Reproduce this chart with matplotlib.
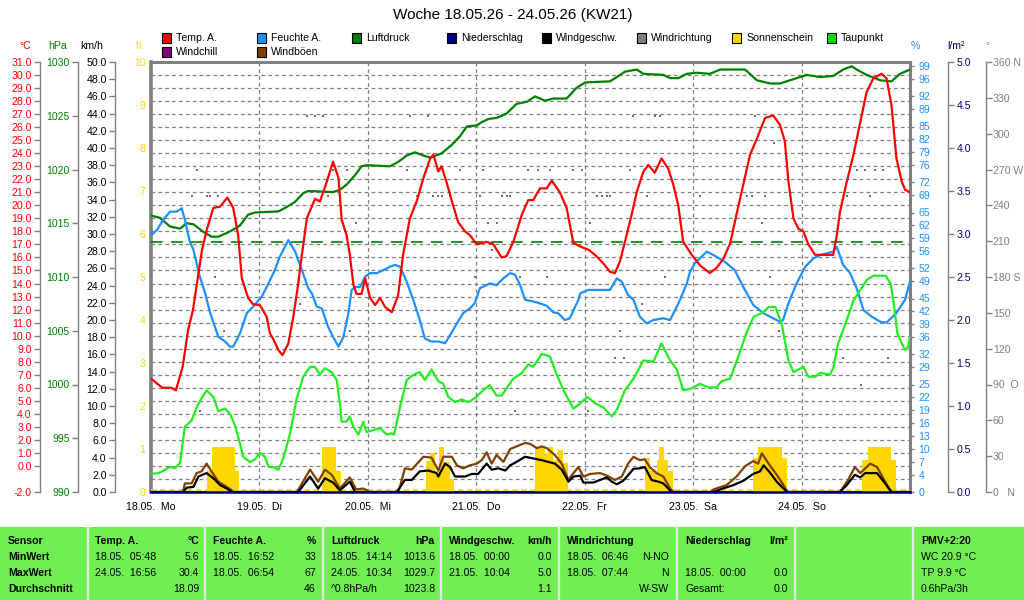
import numpy as np
import matplotlib
matplotlib.use("Agg")
import matplotlib.pyplot as plt
from matplotlib.patches import Rectangle

plt.rcParams['font.family'] = ['Liberation Sans', 'DejaVu Sans']
plt.rcParams['font.size'] = 7.6

# ---- data (hours since 18.05. 00:00, value) ----
temp = np.array([
    (0, 6.7), (2.5, 6.0), (4.5, 6.0), (5.5, 5.8), (7.0, 7.6), (8.2, 10.4), (9.3, 12.0), (10.4, 14.5),
    (11.3, 16.6), (12.4, 18.2), (13.8, 19.8), (15.3, 19.9), (16.9, 20.6), (18.2, 19.8), (19.3, 17.7),
    (20.1, 14.4), (21.5, 12.9), (22.6, 12.4), (24.1, 12.35), (25.6, 11.45), (26.3, 10.2), (27.1, 9.7),
    (28.2, 8.9), (29.1, 8.5), (30.4, 9.4), (31.5, 11.45), (32.6, 14.0), (33.0, 15.2), (34.5, 19.0),
    (36.3, 20.5), (37.4, 20.3), (38.9, 21.8), (40.0, 23.0), (40.3, 23.35), (41.5, 22.1), (42.2, 18.9),
    (43.3, 17.7), (44.0, 16.2), (44.8, 13.9), (45.5, 13.2), (46.6, 13.2), (47.4, 14.4), (48.5, 12.9),
    (49.6, 12.35), (50.7, 12.9), (51.8, 12.2), (53.3, 11.8), (54.7, 13.1), (55.8, 16.2), (57.3, 19.0),
    (58.8, 20.3), (60.3, 22.1), (61.8, 23.6), (62.5, 23.9), (63.6, 22.6), (64.3, 23.0), (65.4, 21.8),
    (66.6, 20.3), (68.0, 18.7), (69.5, 18.0), (70.6, 17.7), (72.1, 17.0), (74.3, 17.2), (75.8, 17.0),
    (77.6, 16.0), (78.7, 16.1), (80.2, 17.2), (82.1, 19.3), (83.5, 20.4), (84.6, 20.4), (86.1, 21.3),
    (87.6, 21.3), (88.7, 21.9), (90.5, 21.0), (92.0, 19.8), (93.5, 17.1), (95.3, 16.8), (96.8, 16.6),
    (98.6, 16.1), (100.1, 15.55), (101.6, 14.9), (102.7, 14.8), (103.8, 15.7), (104.9, 17.2),
    (106.4, 19.3), (107.5, 21.0), (109.0, 22.6), (110.1, 23.1), (111.5, 22.5), (113.0, 23.6),
    (114.5, 22.8), (115.6, 21.6), (116.7, 20.0), (117.8, 17.2), (119.7, 16.2), (121.5, 15.4),
    (123.7, 14.8), (125.2, 15.2), (126.7, 15.9), (128.2, 17.1), (129.6, 19.3), (131.1, 21.6),
    (132.6, 23.9), (134.1, 25.1), (135.9, 26.7), (137.7, 26.9), (139.2, 26.2), (140.3, 24.9),
    (141.1, 21.8), (142.2, 19.0), (143.3, 18.2), (144.4, 18.0), (145.5, 17.0), (147.0, 16.2),
    (151.0, 16.2), (151.8, 17.7), (152.5, 19.5), (154.0, 21.8), (155.5, 23.9), (157.0, 26.4),
    (158.4, 28.7), (159.9, 29.75), (161.7, 30.1), (162.8, 29.75), (163.9, 27.7), (165.0, 23.6),
    (166.2, 21.8), (166.9, 21.2), (168, 21.0)])

humidity = np.array([
    (0.15, 59.8), (1.3, 60.9), (2.7, 63.3), (4.2, 65.2), (5.7, 65.2), (6.8, 66.0), (7.5, 63.3),
    (8.6, 58.2), (9.4, 56.3), (10.8, 50.1), (12.0, 46.2), (13.1, 41.6), (14.9, 36.1), (16.4, 35.0),
    (17.5, 33.8), (18.2, 33.8), (19.7, 36.9), (21.2, 41.6), (22.6, 43.1), (24.5, 45.4), (26.0, 48.5),
    (27.4, 51.6), (28.5, 54.7), (29.3, 56.3), (30.4, 58.6), (31.9, 55.9), (33.2, 52.2), (34.8, 47.4),
    (35.6, 46.2), (36.7, 43.1), (37.8, 42.7), (39.2, 38.4), (40.3, 36.1), (41.5, 33.8), (42.6, 36.1),
    (43.7, 41.6), (44.4, 47.0), (45.2, 47.7), (46.3, 47.7), (47.4, 50.1), (48.5, 50.9), (50.0, 50.9),
    (51.4, 51.6), (52.9, 52.4), (54.0, 52.8), (55.1, 52.4), (56.6, 48.9), (58.1, 44.5), (59.5, 40.0),
    (60.6, 35.7), (62.1, 35.0), (63.6, 35.0), (65.1, 34.6), (66.2, 36.5), (67.7, 39.2), (69.1, 41.6),
    (70.6, 42.7), (71.7, 44.0), (72.8, 47.4), (75.0, 48.5), (76.5, 48.1), (78.0, 49.7), (79.5, 50.9),
    (80.6, 50.5), (81.7, 48.1), (82.8, 44.7), (85.4, 44.1), (87.6, 43.3), (89.0, 41.8), (90.1, 41.6),
    (91.6, 40.0), (92.7, 40.4), (94.6, 44.7), (95.0, 46.2), (96.8, 47.0), (99.4, 47.0), (101.6, 47.0),
    (103.1, 49.7), (104.2, 48.9), (105.6, 45.8), (106.8, 44.7), (107.5, 42.7), (108.2, 40.8),
    (109.7, 39.2), (111.2, 40.0), (113.4, 40.4), (114.9, 40.0), (116.0, 42.3), (117.1, 44.7),
    (118.6, 48.5), (119.3, 51.2), (120.4, 53.2), (123.0, 55.9), (124.5, 55.1), (126.3, 54.0),
    (127.4, 53.2), (129.2, 51.6), (131.1, 47.7), (133.3, 43.5), (135.5, 41.6), (137.7, 40.4),
    (139.2, 39.6), (139.9, 40.0), (141.1, 43.9), (142.9, 48.5), (144.8, 52.4), (146.6, 54.3),
    (148.1, 55.1), (151.0, 55.9), (151.8, 57.0), (153.2, 52.8), (154.7, 51.0), (156.2, 47.4),
    (157.7, 42.3), (159.5, 40.8), (161.4, 39.6), (162.8, 39.4), (165.0, 41.6), (166.9, 44.7),
    (168, 48.9)])

pressure = np.array([
    (0.15, 1015.7), (2.0, 1015.5), (4.2, 1014.7), (6.4, 1014.5), (7.9, 1015.0), (9.4, 1014.9),
    (11.6, 1014.2), (13.4, 1013.75), (14.9, 1013.75), (16.8, 1014.1), (18.2, 1014.4), (19.7, 1014.8),
    (21.5, 1015.8), (23.0, 1016.0), (28.2, 1016.1), (30.0, 1016.5), (31.9, 1017.0), (33.7, 1017.8),
    (34.8, 1018.0), (40.3, 1017.9), (41.8, 1018.1), (43.3, 1018.6), (45.2, 1019.5), (46.6, 1020.3),
    (47.7, 1020.4), (52.9, 1020.3), (54.7, 1020.7), (56.6, 1021.3), (58.4, 1021.6), (60.3, 1021.3),
    (61.8, 1021.1), (64.3, 1021.5), (66.6, 1022.3), (68.4, 1023.1), (69.9, 1024.0), (72.1, 1024.1),
    (73.2, 1024.4), (74.7, 1024.7), (76.5, 1024.8), (78.7, 1025.2), (80.9, 1026.1), (83.2, 1026.3),
    (85.0, 1026.8), (87.2, 1026.4), (89.0, 1026.6), (92.0, 1026.6), (94.2, 1027.6), (96.1, 1028.1),
    (101.6, 1028.2), (103.1, 1028.6), (104.9, 1029.1), (107.5, 1029.3), (109.0, 1028.9),
    (113.4, 1028.8), (114.9, 1028.5), (116.7, 1028.5), (118.6, 1028.9), (120.8, 1029.0),
    (123.7, 1028.9), (126.0, 1029.3), (131.5, 1029.3), (134.1, 1028.3), (137.1, 1028.0),
    (139.2, 1028.0), (142.2, 1028.4), (145.1, 1028.8), (148.1, 1028.6), (151.0, 1028.7),
    (153.2, 1029.3), (155.1, 1029.6), (156.2, 1029.3), (158.4, 1028.8), (161.4, 1028.3),
    (163.9, 1028.2), (165.8, 1028.9), (168, 1029.3)])
pressure_ref = 1013.25

dewpoint = np.array([
    (0.15, -0.6), (1.6, -0.56), (3.1, -0.3), (4.2, -0.06), (5.3, -0.18), (6.4, 0.2), (7.5, 3.0),
    (9.0, 3.5), (10.1, 4.5), (11.2, 5.2), (12.3, 5.8), (13.8, 5.3), (14.9, 4.2), (16.4, 4.4),
    (17.5, 4.0), (18.6, 3.1), (19.7, 1.7), (20.4, 0.7), (21.9, 0.3), (23.0, 0.5), (24.1, 1.0),
    (25.2, 0.7), (26.0, -0.06), (27.1, -0.1), (28.2, -0.3), (29.3, 0.6), (30.8, 2.5), (32.2, 5.1),
    (33.7, 6.85), (35.2, 7.6), (36.3, 7.6), (37.4, 7.0), (38.5, 7.5), (40.0, 7.2), (41.1, 6.6),
    (41.8, 4.8), (42.2, 3.4), (43.3, 3.4), (44.0, 3.8), (44.8, 3.0), (45.9, 2.4), (47.0, 3.4),
    (47.7, 2.6), (49.2, 2.75), (50.7, 2.9), (52.2, 2.4), (53.3, 2.5), (53.8, 2.4), (55.5, 5.1),
    (56.6, 6.6), (58.1, 7.0), (59.5, 7.2), (60.6, 6.6), (62.1, 7.4), (63.6, 6.5), (64.7, 6.3),
    (65.8, 5.3), (67.3, 4.9), (68.8, 5.1), (70.2, 4.9), (71.7, 5.2), (73.5, 5.8), (75.0, 6.2),
    (76.5, 5.4), (77.6, 5.4), (78.7, 5.96), (80.2, 6.7), (82.0, 7.1), (83.5, 7.8), (84.6, 7.6),
    (86.5, 8.6), (88.3, 8.4), (89.8, 7.0), (91.6, 5.6), (93.5, 4.4), (95.0, 4.8), (96.6, 5.3),
    (98.3, 4.8), (100.1, 4.5), (102.0, 3.8), (103.1, 4.3), (104.9, 5.8), (106.8, 6.7), (109.0, 8.1),
    (111.2, 8.0), (113.0, 9.4), (114.9, 8.1), (116.4, 7.4), (117.8, 5.8), (119.7, 5.96), (121.5, 6.3),
    (123.4, 6.03), (125.2, 6.03), (126.3, 6.5), (128.2, 6.7), (130.0, 8.4), (131.9, 10.3),
    (133.4, 11.45), (135.6, 11.8), (136.7, 12.2), (138.2, 12.2), (139.6, 10.9), (141.1, 8.1),
    (142.2, 7.2), (143.3, 7.4), (144.4, 7.6), (145.5, 6.85), (147.0, 6.85), (148.1, 7.15),
    (150.3, 7.0), (151.0, 7.5), (152.1, 9.4), (154.0, 11.2), (155.5, 12.7), (157.0, 13.5),
    (158.5, 14.3), (160.0, 14.6), (162.6, 14.6), (163.7, 14.0), (164.4, 12.5), (165.2, 10.2),
    (166.2, 9.4), (166.9, 8.9), (167.6, 9.15), (168, 9.9)])

wind = np.array([
    (0, 0), (7.1, 0), (7.9, 0.5), (9.4, 0.6), (10.5, 1.8), (12.3, 2.2), (13.8, 1.6), (15.3, 0.8),
    (16.8, 0.4), (17.9, 0), (32.6, 0), (35.2, 1.8), (37.0, 0.4), (38.5, 1.6), (40.3, 1.1), (41.8, 0.2),
    (44.0, 1.2), (45.2, 0), (54.4, 0), (56.2, 1.4), (57.7, 1.4), (59.5, 2.4), (61.4, 2.5), (63.2, 2.2),
    (63.6, 1.8), (65.1, 3.3), (66.2, 2.9), (67.3, 1.8), (69.5, 1.8), (71.0, 2.1), (72.4, 2.1),
    (74.3, 3.3), (75.4, 2.6), (76.9, 2.75), (78.4, 2.5), (79.5, 3.1), (80.9, 3.5), (82.8, 4.1),
    (84.6, 3.9), (86.5, 3.7), (88.3, 3.45), (89.4, 3.3), (90.9, 2.6), (92.4, 1.2), (93.5, 1.8),
    (95.0, 1.9), (95.7, 1.1), (97.9, 1.1), (99.4, 1.4), (100.9, 1.7), (102.0, 1.2), (103.1, 0.9),
    (104.5, 1.3), (106.0, 2.2), (106.8, 2.7), (108.2, 2.75), (109.3, 2.9), (110.8, 1.4), (112.3, 1.2),
    (113.4, 1.0), (114.5, 0.4), (115.2, 0), (124.5, 0), (126.0, 0.3), (128.9, 0.8), (131.1, 1.3),
    (133.3, 2.1), (134.8, 2.4), (135.6, 3.1), (137.1, 2.2), (138.5, 1.2), (140.0, 0.4), (140.8, 0),
    (152.5, 0), (154.0, 0.8), (155.8, 2.0), (157.0, 1.7), (158.1, 2.2), (160.7, 2.2), (162.2, 1.2),
    (163.6, 0.2), (163.9, 0), (168, 0)])

gusts = np.array([
    (0, 0), (7.1, 0), (7.5, 1.0), (9.0, 1.0), (10.1, 2.2), (11.2, 2.4), (12.3, 3.3), (13.4, 2.4),
    (14.9, 1.2), (16.4, 0.7), (17.9, 0.2), (18.2, 0), (32.3, 0), (35.2, 2.6), (37.0, 1.2), (38.5, 2.6),
    (40.0, 2.0), (41.8, 0.4), (44.0, 1.7), (45.4, 0.3), (47.0, 0.4), (48.5, 0), (54.7, 0), (55.1, 0.6),
    (56.2, 2.75), (57.7, 2.6), (60.3, 4.1), (62.1, 4.0), (63.6, 2.5), (64.7, 4.1), (66.6, 4.1),
    (67.7, 3.1), (69.1, 2.75), (70.6, 3.1), (72.1, 3.3), (73.2, 3.7), (74.3, 4.6), (75.4, 3.3),
    (76.5, 4.3), (78.0, 3.5), (79.5, 5.0), (80.9, 5.3), (82.8, 5.7), (83.9, 5.6), (85.4, 5.1),
    (86.5, 5.3), (87.6, 5.1), (89.4, 4.3), (90.9, 3.3), (92.4, 1.4), (93.5, 2.2), (94.6, 2.9),
    (95.7, 1.8), (97.2, 2.1), (99.4, 2.2), (100.9, 1.9), (102.7, 1.4), (104.2, 1.8), (105.6, 3.3),
    (106.8, 4.1), (108.2, 3.7), (109.3, 3.8), (110.4, 2.9), (111.9, 2.2), (113.4, 1.8), (114.9, 0.4),
    (115.7, 0), (123.8, 0), (124.5, 0.3), (127.4, 0.8), (129.6, 1.8), (131.5, 3.0), (133.3, 3.6),
    (134.4, 3.3), (135.2, 4.5), (136.7, 3.3), (138.5, 2.0), (140.0, 0.8), (140.9, 0), (152.5, 0),
    (154.3, 1.4), (155.8, 2.9), (157.0, 2.2), (159.2, 3.3), (160.7, 2.9), (162.5, 1.2), (163.9, 0),
    (168, 0)])

# sunshine: (start hour, end hour, hours of sun)
sunshine = np.array([
    (12.3, 13.5, 0.5), (13.5, 18.7, 1.05), (18.7, 19.5, 0.5),
    (37.8, 41.0, 1.05), (41.0, 42.0, 0.5),
    (60.9, 61.8, 0.72), (61.8, 62.9, 0.9), (62.9, 63.8, 0.5), (63.8, 64.9, 1.05), (64.9, 66.2, 0.7),
    (66.2, 67.1, 0.3),
    (85.0, 87.2, 1.05), (87.2, 87.9, 0.9), (87.9, 89.0, 1.05), (89.0, 90.1, 0.75), (90.1, 91.3, 0.98),
    (91.3, 92.4, 0.67),
    (109.3, 110.4, 0.78), (110.4, 111.9, 0.5), (111.9, 112.5, 0.74), (112.5, 113.5, 1.04),
    (113.5, 114.5, 0.74), (114.5, 115.5, 0.5),
    (133.3, 134.4, 0.78), (134.4, 139.6, 1.05), (139.6, 140.7, 0.78),
    (157.3, 158.8, 0.74), (158.8, 163.7, 1.05), (163.7, 164.9, 0.74)])

rain = np.array([(0, 0.0), (168, 0.0)])

# wind direction samples (hour, degrees)
winddir = np.array([
    (9.1, 247.5), (10.2, 270), (10.8, 67.5), (12.4, 247.5), (13.1, 247.5), (14.2, 180), (14.8, 247.5),
    (16.2, 135), (33.0, 157.5), (34.5, 315), (36.3, 315), (38.1, 315), (39.2, 247.5), (40.3, 270),
    (43.4, 270), (44.0, 135), (45.4, 225), (56.7, 270), (57.3, 315), (58.9, 247.5), (61.3, 315),
    (62.4, 247.5), (63.5, 247.5), (64.4, 247.5), (66.8, 292.5), (68.4, 270), (71.7, 180),
    (72.8, 247.5), (73.5, 270), (74.6, 225), (75.5, 202.5), (76.6, 225), (77.7, 247.5),
    (78.8, 247.5), (79.5, 247.5), (80.6, 67.5), (81.7, 180), (83.4, 270), (85.7, 270), (87.6, 180),
    (88.3, 270), (93.4, 270), (95.4, 270), (96.7, 67.5), (97.2, 225), (98.7, 247.5), (99.8, 247.5),
    (100.9, 247.5), (101.6, 247.5), (102.7, 112.5), (103.8, 135), (104.7, 112.5), (106.0, 270),
    (106.7, 315), (108.7, 157.5), (109.8, 247.5), (111.6, 315), (112.7, 315), (113.8, 180),
    (121.5, 247.5), (129.9, 112.5), (131.9, 247.5), (133.0, 247.5), (133.7, 315), (135.3, 225),
    (135.9, 247.5), (137.0, 180), (137.9, 292.5), (139.0, 135), (153.2, 112.5), (154.1, 247.5),
    (156.3, 270), (157.2, 90), (158.0, 270), (159.1, 247.5), (160.2, 270), (162.0, 270),
    (163.1, 112.5)])

day_ticks = [0, 24, 48, 72, 96, 120, 144]
day_labels = ['18.05.  Mo', '19.05.  Di', '20.05.  Mi', '21.05.  Do',
              '22.05.  Fr', '23.05.  Sa', '24.05.  So']
rh_ticks = [0, 4, 7, 10, 13, 16, 19, 22, 25, 29, 32, 36, 39, 42, 45, 49, 52, 56, 59, 62, 65,
            69, 72, 76, 79, 82, 85, 89, 92, 96, 99]
dir_ticks = list(range(0, 361, 30))
dir_labels = ['0   N', '30', '60', '90  O', '120', '150', '180 S', '210', '240',
              '270 W', '300', '330', '360 N']

RED, BLUE, GREEN, NAVY = '#FF0000', '#1E90FF', '#008000', '#000080'
GOLD, LIME, BROWN, GRAY = '#FFD700', '#22EE22', '#804000', '#808080'

fig = plt.figure(figsize=(10.24, 6.0), dpi=100)
L, R, T, B = 151, 910, 62, 492
W = R - L
base = fig.add_axes([L / 1024, 1 - B / 600, W / 1024, (B - T) / 600])
base.set_xlim(0, 168)
base.set_ylim(-2, 31)
for y in range(-1, 31):
    base.axhline(y, color=GRAY, lw=0.9, ls=(0, (3, 2.5)), zorder=0)
for d in day_ticks[1:]:
    base.axvline(d, color=GRAY, lw=0.9, ls=(0, (3, 2.5)), zorder=0)
base.set_yticks([])
base.set_xticks(day_ticks)
base.set_xticklabels(day_labels)
base.tick_params(axis='x', length=0, pad=7)
for s in ['top', 'right']:
    base.spines[s].set_color(GRAY)
    base.spines[s].set_linewidth(2.2)
base.spines['left'].set_color(GRAY)
base.spines['left'].set_linewidth(2.6)
base.spines['bottom'].set_color(NAVY)
base.spines['bottom'].set_linewidth(1.5)


def twin(ylim, side=None, where=0.0, color='black'):
    ax = base.twinx()
    ax.set_ylim(*ylim)
    for s in ax.spines.values():
        s.set_visible(False)
    if side is None:
        ax.set_yticks([])
        return ax
    sp = ax.spines[side]
    if where not in (0.0, 1.0):
        sp.set_visible(True)
        sp.set_position(('axes', where))
        sp.set_color(GRAY)
        sp.set_linewidth(1)
    if side == 'left':
        ax.yaxis.tick_left()
    else:
        ax.yaxis.tick_right()
    ax.tick_params(axis='y', length=4, width=1, color=GRAY, labelcolor=color, pad=2)
    return ax


# sunshine hours (h axis on main left spine)
ax_h = twin((0, 10), 'left', 0.0, GOLD)
ax_h.set_yticks(range(0, 11))
ax_h.tick_params(axis='y', length=0, pad=4)
ax_h.bar(sunshine[:, 0], sunshine[:, 2], width=sunshine[:, 1] - sunshine[:, 0],
         align='edge', color=GOLD, linewidth=0)
ax_h.axhline(0.04, color=GOLD, lw=1.3, ls=(0, (3, 2)))

# wind direction (right outer axis)
ax_d = twin((0, 360), 'right', 1.1001, GRAY)
ax_d.set_yticks(dir_ticks)
ax_d.set_yticklabels(dir_labels)
ax_d.tick_params(axis='y', pad=1)
ax_d.plot(winddir[:, 0], winddir[:, 1], 's', color='#707070', ms=1.9, mew=0)

# pressure
ax_p = twin((990, 1030), 'left', -0.0962, GREEN)
ax_p.set_yticks(range(990, 1031, 5))
ax_p.axhline(pressure_ref, color=GREEN, lw=1.2, ls=(0, (7, 5)))
ax_p.plot(pressure[:, 0], pressure[:, 1], color=GREEN, lw=1.6)

# wind speed / gusts
ax_w = twin((0, 50), 'left', -0.0474, 'black')
ax_w.set_yticks(np.arange(0, 50.1, 2))
ax_w.set_yticklabels(['%.1f' % v for v in np.arange(0, 50.1, 2)])
ax_w.plot(gusts[:, 0], gusts[:, 1], color=BROWN, lw=1.6)
ax_w.plot(wind[:, 0], wind[:, 1], color='black', lw=1.6)

# humidity
ax_rh = twin((0, 100), 'right', 1.0, BLUE)
ax_rh.set_yticks(rh_ticks)
ax_rh.tick_params(axis='y', length=3, pad=3)
ax_rh.plot(humidity[:, 0], humidity[:, 1], color=BLUE, lw=1.6)

# temperature / dew point
ax_t = twin((-2, 31), 'left', -0.1462, RED)
t_ticks = [-2] + list(range(0, 32))
ax_t.set_yticks(t_ticks)
ax_t.set_yticklabels(['%.1f' % v for v in t_ticks])
ax_t.plot(dewpoint[:, 0], dewpoint[:, 1], color=LIME, lw=1.6)
ax_t.plot(temp[:, 0], temp[:, 1], color=RED, lw=1.6)

# precipitation
ax_r = twin((0, 5), 'right', 1.0501, NAVY)
ax_r.set_yticks(np.arange(0, 5.01, 0.5))
ax_r.set_yticklabels(['%.1f' % v for v in np.arange(0, 5.01, 0.5)])
ax_r.plot(rain[:, 0], rain[:, 1], color=NAVY, lw=1.8, clip_on=False)

# title, unit labels
fig.text(513 / 1024, 1 - 15 / 600, 'Woche 18.05.26 - 24.05.26 (KW21)', ha='center', va='center',
         fontsize=11)
for x, txt, c in [(25, '°C', RED), (58, 'hPa', GREEN), (92, 'km/h', 'black'), (138, 'h', GOLD),
                  (915, '%', BLUE), (956, 'l/m²', NAVY), (987, '°', GRAY)]:
    fig.text(x / 1024, 1 - 46 / 600, txt, ha='center', va='center', color=c)

# legend
legend = [('Temp. A.', RED), ('Feuchte A.', BLUE), ('Luftdruck', GREEN), ('Niederschlag', NAVY),
          ('Windgeschw.', 'black'), ('Windrichtung', GRAY), ('Sonnenschein', GOLD),
          ('Taupunkt', '#00E000'), ('Windchill', '#800080'), ('Windböen', BROWN)]
for i, (name, c) in enumerate(legend):
    col, row = i % 8, i // 8
    x0 = 162 + 95 * col
    yc = 38 + 14 * row
    fig.add_artist(Rectangle((x0 / 1024, 1 - (yc + 4.5) / 600), 9 / 1024, 9 / 600,
                             transform=fig.transFigure, facecolor=c, edgecolor='black', lw=0.8))
    fig.text((x0 + 14) / 1024, 1 - yc / 600, name, ha='left', va='center')

# bottom table
fig.add_artist(Rectangle((0, 0), 1, 73 / 600, transform=fig.transFigure,
                         facecolor='#70F050', edgecolor='none'))
for xs in [87.5, 204.5, 322.5, 441, 558.5, 676.5, 794.5, 912.5]:
    fig.add_artist(plt.Line2D([xs / 1024] * 2, [0, 73 / 600], transform=fig.transFigure,
                              color='#E8E8E8', lw=1.6))
rows_y = [541, 557, 573, 589]
table_cols = [
    (8, None, ['Sensor', 'MinWert', 'MaxWert', 'Durchschnitt'], [], True),
    (95, 199, ['Temp. A.', '18.05.  05:48', '24.05.  16:56', ''], ['°C', '5.6', '30.4', '18.09'], False),
    (213, 316, ['Feuchte A.', '18.05.  16:52', '18.05.  06:54', ''], ['%', '33', '67', '46'], False),
    (331, 435, ['Luftdruck', '18.05.  14:14', '24.05.  10:34', '^0.8hPa/h'],
     ['hPa', '1013.6', '1029.7', '1023.8'], False),
    (449, 552, ['Windgeschw.', '18.05.  00:00', '21.05.  10:04', ''], ['km/h', '0.0', '5.0', '1.1'], False),
    (567, 669, ['Windrichtung', '18.05.  06:46', '18.05.  07:44', ''], ['', 'N-NO', 'N', 'W-SW'], False),
    (685, 788, ['Niederschlag', '', '18.05.  00:00', 'Gesamt:'], ['l/m²', '', '0.0', '0.0'], False),
    (921, None, ['PMV+2:20', 'WC 20.9 °C', 'TP 9.9 °C', '0.6hPa/3h'], [], False),
]
for xl, xr, left_txt, right_txt, all_bold in table_cols:
    for r, y in enumerate(rows_y):
        bold = all_bold or r == 0
        if left_txt[r]:
            fig.text(xl / 1024, 1 - y / 600, left_txt[r], ha='left', va='center',
                     fontweight='bold' if bold else 'normal')
        if xr is not None and right_txt[r]:
            fig.text(xr / 1024, 1 - y / 600, right_txt[r], ha='right', va='center',
                     fontweight='bold' if r == 0 else 'normal')

fig.savefig('out.png', dpi=100)
